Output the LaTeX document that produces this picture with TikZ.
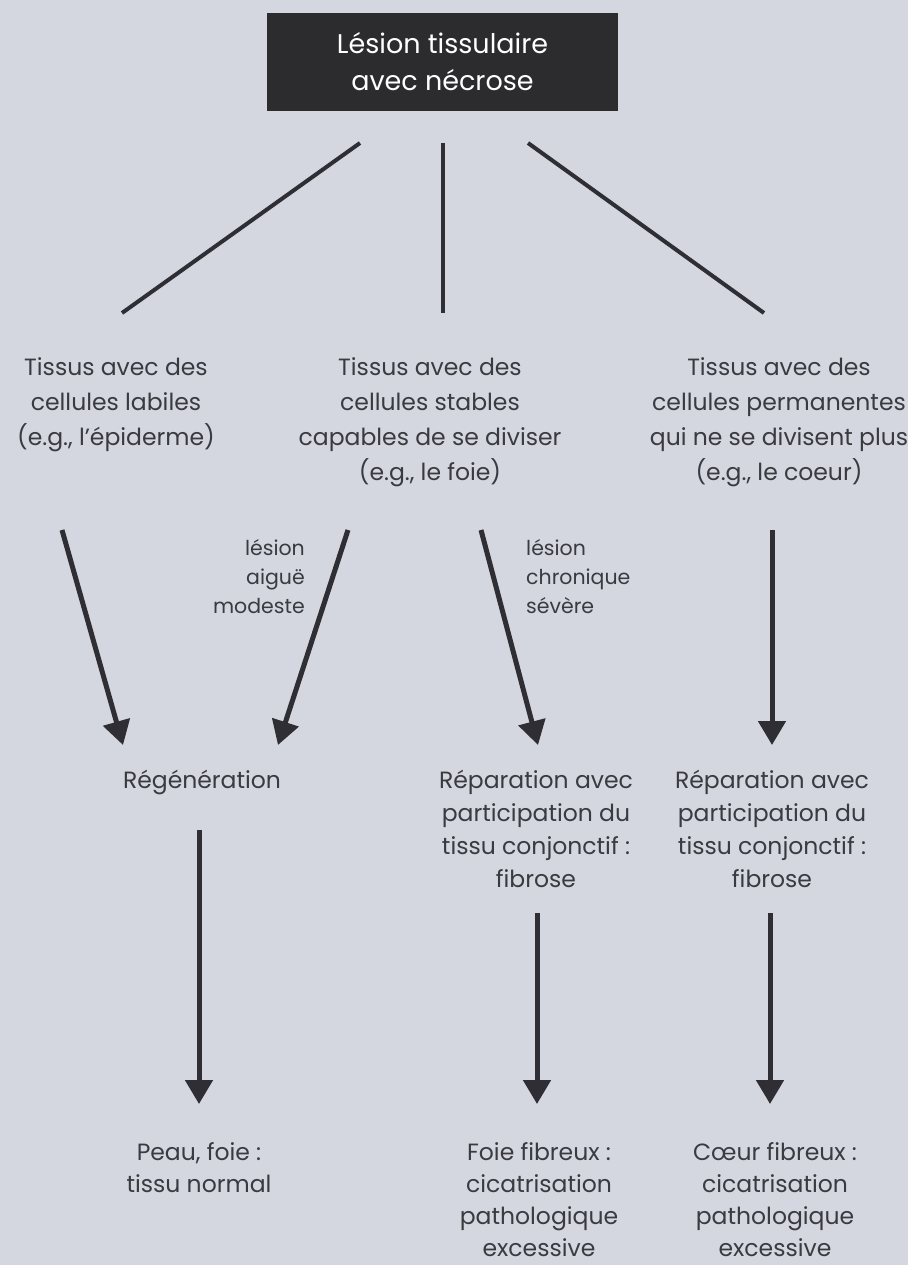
\documentclass[tikz,border=0pt]{standalone}
\usepackage{fontspec}
\setmainfont{Poppins}
\usetikzlibrary{arrows.meta}
\definecolor{bg}{HTML}{D4D7DF}
\definecolor{ink}{HTML}{2E2E34}
\definecolor{txt}{HTML}{3A3A40}
\definecolor{boxfill}{HTML}{2C2C2E}
\begin{document}
\begin{tikzpicture}[x=1pt,y=-1pt,
  body/.style={font=\fontsize{23.5}{33}\selectfont, text=txt, align=center, inner sep=0pt, anchor=north},
  bodyw/.style={body, font=\fontsize{23.5}{35}\selectfont},
  bodyb/.style={body, font=\fontsize{23.5}{32}\selectfont},
  lbl/.style={font=\fontsize{20.5}{29}\selectfont, text=txt, inner sep=0pt},
  headbox/.style={fill=boxfill, text=white, font=\fontsize{27}{37}\selectfont, align=center, minimum width=351pt, minimum height=98pt, inner sep=0pt},
  link/.style={draw=ink, line width=4pt},
  arr/.style={draw=ink, line width=5pt, -{Triangle[length=24pt,width=27pt]}},
]
\fill[bg] (0,0) rectangle (908,1265);
\useasboundingbox (0,0) rectangle (908,1265);

\node[headbox] (top) at (442.5,62) {Lésion tissulaire\\avec nécrose};

\node[bodyw] (t1) at (116,357.5) {Tissus avec des\\cellules labiles\\(e.g., l’épiderme)};
\node[bodyw] (t2) at (430,357.5) {Tissus avec des\\cellules stables\\capables de se diviser\\(e.g., le foie)};
\node[bodyw] (t3) at (779,357.5) {Tissus avec des\\cellules permanentes\\qui ne se divisent plus\\(e.g., le coeur)};

\node[lbl, anchor=north east, align=right] (l1) at (305,539) {lésion\\aiguë\\modeste};
\node[lbl, anchor=north west, align=left] (l2) at (526,539) {lésion\\chronique\\sévère};

\node[body] (r1) at (202,770) {Régénération};
\node[body] (r2) at (536,770) {Réparation avec\\participation du\\tissu conjonctif :\\fibrose};
\node[body] (r3) at (772,770) {Réparation avec\\participation du\\tissu conjonctif :\\fibrose};

\node[bodyb] (b1) at (199,1142) {Peau, foie :\\tissu normal};
\node[bodyb] (b2) at (539,1142) {Foie fibreux :\\cicatrisation\\pathologique\\excessive};
\node[bodyb] (b3) at (775,1142) {Cœur fibreux :\\cicatrisation\\pathologique\\excessive};

% connector ends
\coordinate (s1) at (360,143); \coordinate (e1) at (122,313);
\coordinate (s2) at (443,143); \coordinate (e2) at (443,313);
\coordinate (s3) at (528,143); \coordinate (e3) at (764,313);

\coordinate (a1s) at (62,530);  \coordinate (a1e) at (123,745);
\coordinate (a2s) at (348,530); \coordinate (a2e) at (278,745);
\coordinate (a3s) at (481,530); \coordinate (a3e) at (538,745);
\coordinate (a4s) at (772,530); \coordinate (a4e) at (772,745);

\coordinate (b1s) at (199,830); \coordinate (b1e) at (199,1104);
\coordinate (b2s) at (537,913); \coordinate (b2e) at (537,1104);
\coordinate (b3s) at (770,913); \coordinate (b3e) at (770,1104);

\draw[link] (s1) -- (e1);
\draw[link] (s2) -- (e2);
\draw[link] (s3) -- (e3);

\draw[arr] (a1s) -- (a1e);
\draw[arr] (a2s) -- (a2e);
\draw[arr] (a3s) -- (a3e);
\draw[arr] (a4s) -- (a4e);

\draw[arr] (b1s) -- (b1e);
\draw[arr] (b2s) -- (b2e);
\draw[arr] (b3s) -- (b3e);
\end{tikzpicture}
\end{document}
